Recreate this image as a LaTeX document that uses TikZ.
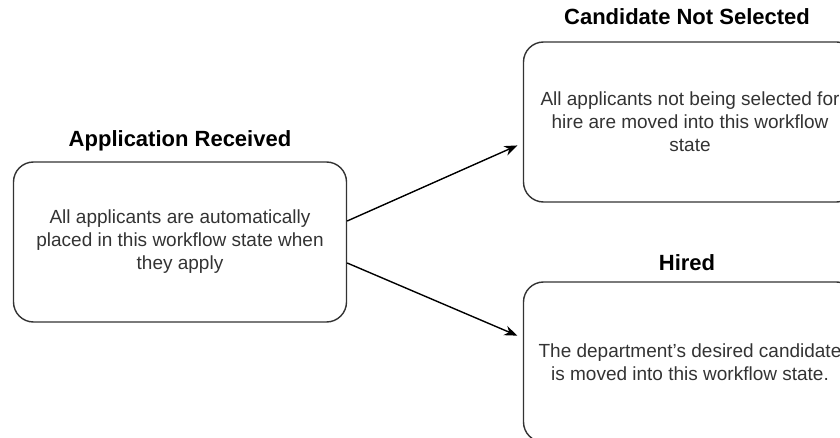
\documentclass[tikz,border=0pt]{standalone}
\usepackage{fontspec}
\setmainfont{Liberation Sans}
\usepackage{xcolor}
\usetikzlibrary{arrows.meta,positioning}

\definecolor{boxline}{HTML}{333333}
\definecolor{bodytext}{HTML}{333333}

\begin{document}
\begin{tikzpicture}[
    x=1pt, y=-1pt,
    state/.style={rectangle, draw=boxline, line width=1.4pt, rounded corners=20pt, minimum width=333pt, minimum height=160pt, align=center, text=bodytext, font=\fontsize{19}{23}\selectfont},
    title/.style={font=\fontsize{22}{26}\selectfont\bfseries, text=black, inner sep=0pt},
    arrow/.style={-{Stealth[length=13pt,width=10pt]}, line width=1.4pt, shorten >=6pt},
]
    \useasboundingbox (0,0) rectangle (840,438);
    \clip (0,0) rectangle (840,438);

    % States
    \node[state] (received) at (180,242) {All applicants are automatically\\placed in this workflow state when\\they apply};
    \node[state] (notselected) at (690,122) {All applicants not being selected for\\hire are moved into this workflow\\state};
    \node[state] (hired) at (690,362) {The department{\char"0027}s desired candidate\\is moved into this workflow state.};

    % Titles
    \node[title, above=10pt of received] (receivedtitle) {Application Received};
    \node[title, above=16pt of notselected.north, xshift=-3pt] (notselectedtitle) {Candidate Not Selected};
    \node[title, above=10pt of hired.north, xshift=-3pt] (hiredtitle) {Hired};

    % Arrows
    \draw[arrow] ([yshift=21pt]received.east) -- ([yshift=-21pt]notselected.west);
    \draw[arrow] ([yshift=-21pt]received.east) -- ([yshift=24pt]hired.west);

\end{tikzpicture}
\end{document}
